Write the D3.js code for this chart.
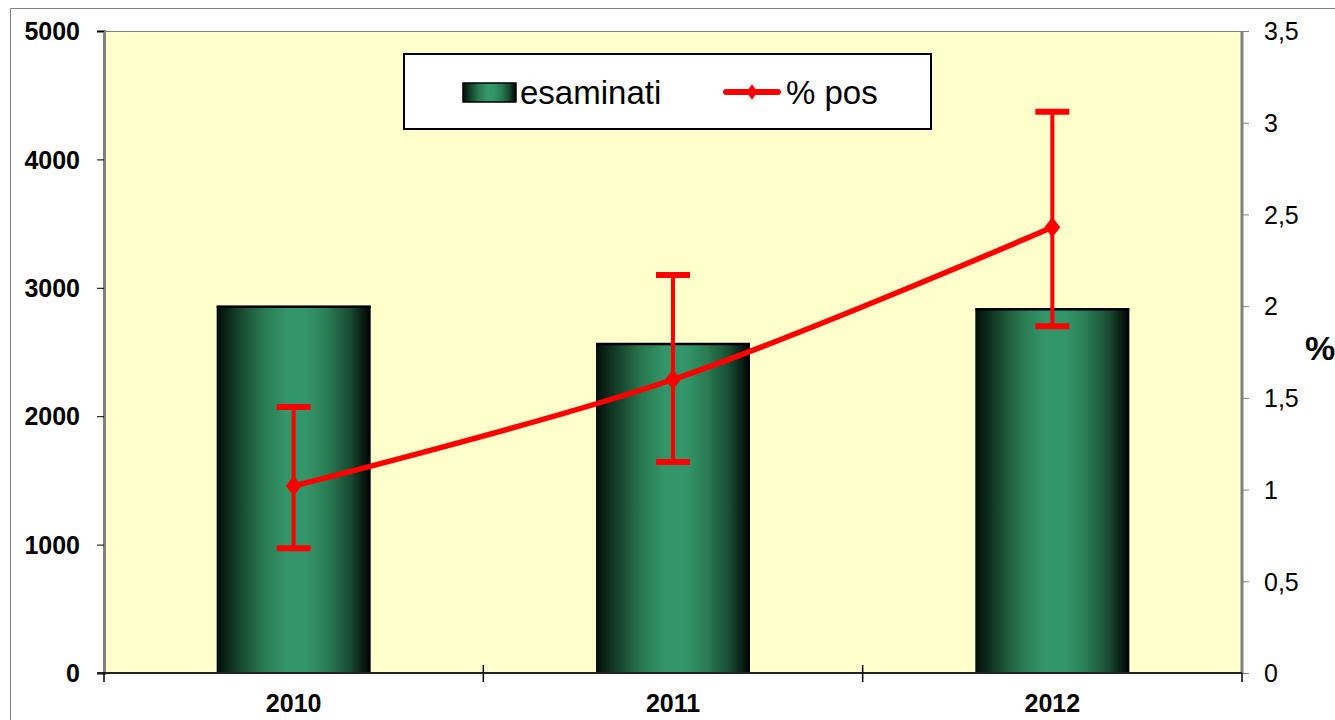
<!DOCTYPE html>
<html lang="it">
<head>
<meta charset="UTF-8">
<title>esaminati / % pos</title>
<script src="https://d3js.org/d3.v7.min.js"></script>
<style>
  body { margin: 0; background: #fff; }
  svg { display: block; font-family: "Liberation Sans", Arial, sans-serif; }
</style>
</head>
<body>
<svg id="chart" width="1335" height="720"></svg>
<script>
// data
const years = ["2010", "2011", "2012"];
const esaminati = [2860, 2570, 2840];
const pctPos = [1.02, 1.60, 2.43];
const pctLow = [0.68, 1.15, 1.89];
const pctHigh = [1.45, 2.17, 3.06];
const leftTicks = [0, 1000, 2000, 3000, 4000, 5000];
const rightTicks = [0, 0.5, 1, 1.5, 2, 2.5, 3, 3.5];

const svg = d3.select("#chart");
const plot = { left: 104, right: 1242, top: 31, bottom: 673 };

// outer chart border (only top and left visible in the frame)
svg.append("path")
    .attr("d", "M10.5,720 V8.5 H1335")
    .attr("fill", "none")
    .attr("stroke", "#808080")
    .attr("stroke-width", 1);

// gradient for the cylinder-like bars
const defs = svg.append("defs");
function barGradient(id) {
    const g = defs.append("linearGradient").attr("id", id)
        .attr("x1", "0%").attr("x2", "100%").attr("y1", "0%").attr("y2", "0%");
    [[0, "#010d08"], [0.12, "#123b27"], [0.3, "#29794f"], [0.45, "#33966a"],
     [0.58, "#33966a"], [0.72, "#2a7c53"], [0.87, "#174a31"], [1, "#000000"]]
        .forEach(s => g.append("stop").attr("offset", s[0]).attr("stop-color", s[1]));
}
barGradient("barGrad");

// scales
const x = d3.scaleBand().domain(years)
    .range([plot.left, plot.right])
    .paddingInner(0.594).paddingOuter(0.297);
const yL = d3.scaleLinear().domain([0, 5000]).range([plot.bottom, plot.top]);
const yR = d3.scaleLinear().domain([0, 3.5]).range([plot.bottom, plot.top]);

// plot background
svg.append("rect")
    .attr("x", plot.left).attr("y", plot.top)
    .attr("width", plot.right - plot.left).attr("height", plot.bottom - plot.top)
    .attr("fill", "#ffffcc");
svg.append("line")
    .attr("x1", plot.left).attr("x2", plot.right)
    .attr("y1", plot.top + 0.5).attr("y2", plot.top + 0.5)
    .attr("stroke", "#808080").attr("stroke-width", 1);

// bars
svg.selectAll(".bar").data(years).enter().append("rect")
    .attr("class", "bar")
    .attr("x", d => x(d))
    .attr("y", (d, i) => yL(esaminati[i]))
    .attr("width", x.bandwidth())
    .attr("height", (d, i) => plot.bottom - yL(esaminati[i]))
    .attr("fill", "url(#barGrad)");
svg.selectAll(".barTop").data(years).enter().append("line")
    .attr("x1", d => x(d)).attr("x2", d => x(d) + x.bandwidth())
    .attr("y1", (d, i) => yL(esaminati[i]) + 1)
    .attr("y2", (d, i) => yL(esaminati[i]) + 1)
    .attr("stroke", "#000").attr("stroke-width", 2.5);

// left axis
const leftAxis = d3.axisLeft(yL).tickValues(leftTicks).tickSize(7).tickFormat(d3.format("d"));
const gl = svg.append("g").attr("transform", `translate(${plot.left},0)`).call(leftAxis);
gl.select(".domain").attr("stroke", "#808080").attr("stroke-width", 3);
gl.selectAll(".tick line").attr("stroke", "#000");
gl.selectAll(".tick text")
    .attr("x", -24).attr("dy", "0.35em")
    .attr("font-size", 25).attr("font-weight", "bold").attr("fill", "#000")
    .attr("font-family", "Liberation Sans, Arial, sans-serif");

// right axis
const rightAxis = d3.axisRight(yR).tickValues(rightTicks).tickSize(7)
    .tickFormat(d => String(d).replace(".", ","));
const gr = svg.append("g").attr("transform", `translate(${plot.right},0)`).call(rightAxis);
gr.select(".domain").attr("stroke", "#808080").attr("stroke-width", 3);
gr.selectAll(".tick line").attr("stroke", "#808080");
gr.selectAll(".tick text")
    .attr("x", 22).attr("dy", "0.35em")
    .attr("font-size", 25).attr("fill", "#000")
    .attr("font-family", "Liberation Sans, Arial, sans-serif");
gr.selectAll(".domain").attr("d", `M0,${plot.top}V${plot.bottom}`);

svg.append("text")
    .attr("x", 1320).attr("y", 348).attr("dy", "0.35em")
    .attr("text-anchor", "middle")
    .attr("font-size", 34).attr("font-weight", "bold")
    .text("%");

// bottom axis with ticks at the category boundaries
const step = x.step();
const bounds = years.map(d => x(d) - x.paddingInner() * step / 2).concat([plot.right]);
bounds[0] = plot.left;
svg.append("line")
    .attr("x1", plot.left - 7).attr("x2", plot.right)
    .attr("y1", plot.bottom).attr("y2", plot.bottom)
    .attr("stroke", "#222").attr("stroke-width", 2);
svg.selectAll(".xtick").data(bounds).enter().append("line")
    .attr("x1", d => d).attr("x2", d => d)
    .attr("y1", (d, i) => (i === 0 || i === bounds.length - 1) ? plot.bottom : plot.bottom - 8)
    .attr("y2", plot.bottom + 9)
    .attr("stroke", "#000").attr("stroke-width", 1.5);
svg.selectAll(".xlabel").data(years).enter().append("text")
    .attr("x", d => x(d) + x.bandwidth() / 2)
    .attr("y", 712)
    .attr("text-anchor", "middle")
    .attr("font-size", 25).attr("font-weight", "bold")
    .text(d => d);

// error bars
const red = "#ff0000";
const cx = d => x(d) + x.bandwidth() / 2;
const capW = 17;
const eb = svg.append("g");
years.forEach((d, i) => {
    eb.append("line")
        .attr("x1", cx(d)).attr("x2", cx(d))
        .attr("y1", yR(pctHigh[i])).attr("y2", yR(pctLow[i]))
        .attr("stroke", red).attr("stroke-width", 4);
    [pctHigh[i], pctLow[i]].forEach(v => {
        eb.append("line")
            .attr("x1", cx(d) - capW).attr("x2", cx(d) + capW)
            .attr("y1", yR(v)).attr("y2", yR(v))
            .attr("stroke", red).attr("stroke-width", 6);
    });
});

// smoothed line
const line = d3.line()
    .x((d, i) => cx(years[i]))
    .y(d => yR(d))
    .curve(d3.curveCardinal.tension(0));
svg.append("path")
    .datum(pctPos)
    .attr("d", line)
    .attr("fill", "none")
    .attr("stroke", red).attr("stroke-width", 5.5)
    .attr("stroke-linecap", "round");

const diamond = d3.symbol().type(d3.symbolDiamond).size(120);
svg.selectAll(".marker").data(pctPos).enter().append("path")
    .attr("transform", (d, i) => `translate(${cx(years[i])},${yR(d)}) scale(1.35,1)`)
    .attr("d", diamond)
    .attr("fill", red);

// legend
const lg = svg.append("g");
lg.append("rect")
    .attr("x", 404).attr("y", 54).attr("width", 527).attr("height", 75)
    .attr("fill", "#fff").attr("stroke", "#000").attr("stroke-width", 2);
lg.append("rect")
    .attr("x", 463).attr("y", 83).attr("width", 53).attr("height", 19)
    .attr("fill", "url(#barGrad)").attr("stroke", "#000").attr("stroke-width", 1.5);
lg.append("text")
    .attr("x", 520).attr("y", 104)
    .attr("font-size", 33)
    .text("esaminati");
lg.append("line")
    .attr("x1", 726).attr("x2", 778).attr("y1", 92).attr("y2", 92)
    .attr("stroke", red).attr("stroke-width", 6).attr("stroke-linecap", "round");
lg.append("path")
    .attr("transform", "translate(752,92) scale(1.2,1)")
    .attr("d", d3.symbol().type(d3.symbolDiamond).size(70))
    .attr("fill", red);
lg.append("text")
    .attr("x", 786).attr("y", 104)
    .attr("font-size", 33)
    .text("% pos");
</script>
</body>
</html>
